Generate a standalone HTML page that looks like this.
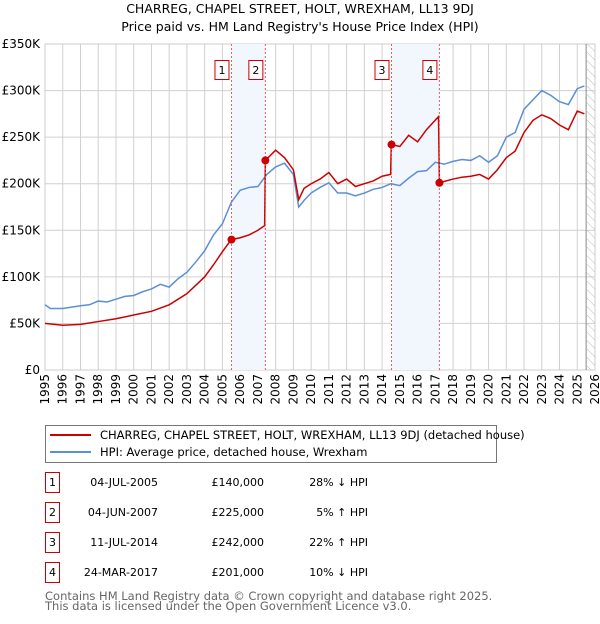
<!DOCTYPE html>
<html><head><meta charset="utf-8">
<style>
body{margin:0;background:#fff;font-family:"DejaVu Sans","Liberation Sans",sans-serif;}
svg text{font-family:"DejaVu Sans","Liberation Sans",sans-serif;}
</style></head>
<body>
<svg id="chart" width="600" height="620" xmlns="http://www.w3.org/2000/svg">
<defs><pattern id="hatch" width="6" height="6" patternUnits="userSpaceOnUse" patternTransform="rotate(-45)"><line x1="0" y1="0" x2="0" y2="6" stroke="#bbb" stroke-width="1"/></pattern></defs>
<text x="300" y="13" text-anchor="middle" font-size="12.5">CHARREG, CHAPEL STREET, HOLT, WREXHAM, LL13 9DJ</text>
<text x="300" y="31" text-anchor="middle" font-size="12.5">Price paid vs. HM Land Registry's House Price Index (HPI)</text>
<g id="grid"></g><g id="bands"></g><g id="lines"></g><g id="marks"></g><g id="axes"></g>
<rect x="45.5" y="425.5" width="451" height="37" fill="#fff" stroke="#777"/>
<line x1="50" y1="435" x2="91" y2="435" stroke="#cc0000" stroke-width="2"/>
<text x="100" y="439" font-size="11.5">CHARREG, CHAPEL STREET, HOLT, WREXHAM, LL13 9DJ (detached house)</text>
<line x1="50" y1="452" x2="91" y2="452" stroke="#5b8fd6" stroke-width="2"/>
<text x="100" y="456" font-size="11.5">HPI: Average price, detached house, Wrexham</text>
<g id="table"></g>
<text x="45" y="600" font-size="11.5" fill="#666">Contains HM Land Registry data © Crown copyright and database right 2025.</text>
<text x="45" y="610" font-size="11.5" fill="#666">This data is licensed under the Open Government Licence v3.0.</text>
</svg>
<script>
const hpiYears=[1995,1995.3,1996,1997,1997.5,1998,1998.5,1999,1999.5,2000,2000.5,2001,2001.5,2002,2002.5,2003,2003.5,2004,2004.5,2005,2005.5,2006,2006.5,2007,2007.5,2008,2008.5,2009,2009.3,2009.6,2010,2010.5,2011,2011.5,2012,2012.5,2013,2013.5,2014,2014.5,2015,2015.5,2016,2016.5,2017,2017.5,2018,2018.5,2019,2019.5,2020,2020.5,2021,2021.5,2022,2022.5,2023,2023.5,2024,2024.5,2025,2025.4];
const hpiValues=[70,66,66,69,70,74,73,76,79,80,84,87,92,89,98,105,116,128,145,157,180,193,196,197,210,218,222,210,175,182,190,196,201,190,190,187,190,194,196,200,198,206,213,214,223,221,224,226,225,230,223,230,250,255,280,290,300,295,288,285,302,305];
const priceYears=[1995,1996,1997,1998,1999,2000,2001,2002,2003,2004,2004.5,2005,2005.5,2006,2006.5,2007,2007.38,2007.42,2008,2008.5,2009,2009.3,2009.6,2010,2010.5,2011,2011.5,2012,2012.5,2013,2013.5,2014,2014.48,2014.52,2015,2015.5,2016,2016.5,2017.18,2017.23,2018,2018.5,2019,2019.5,2020,2020.5,2021,2021.5,2022,2022.5,2023,2023.5,2024,2024.5,2025,2025.4];
const priceValues=[50,48,49,52,55,59,63,70,82,100,113,127,140,142,145,150,155,225,236,228,215,183,195,200,205,212,200,205,197,200,203,208,210,242,240,252,245,258,272,201,205,207,208,210,205,215,228,235,255,268,274,270,263,258,278,275];
const saleLabels=["1","2","3","4"];
const saleYears=[2005.51,2007.42,2014.53,2017.23];
const saleValues=[140,225,242,201];
const saleDates=["04-JUL-2005","04-JUN-2007","11-JUL-2014","24-MAR-2017"];
const salePrices=["£140,000","£225,000","£242,000","£201,000"];
const saleDiffs=["28% ↓ HPI","5% ↑ HPI","22% ↑ HPI","10% ↓ HPI"];
const yTicks=[0,50,100,150,200,250,300,350];
const yTickLabels=["£0","£50K","£100K","£150K","£200K","£250K","£300K","£350K"];
const xTicks=[];for(let y=1995;y<=2026;y++)xTicks.push(y);

const NS="http://www.w3.org/2000/svg";
const X0=45,X1=595,Y0=370,Y1=44;
const xs=v=>X0+(v-1995)*(X1-X0)/31;
const ys=v=>Y0-v*(Y0-Y1)/350;
function mk(tag,attrs,parent,text){const e=document.createElementNS(NS,tag);for(const k in attrs)e.setAttribute(k,attrs[k]);if(text!==undefined)e.textContent=text;document.getElementById(parent).appendChild(e);return e;}

let e;
for(let i=0;i<saleYears.length;i+=2){
 e=mk('rect',{x:xs(saleYears[i]),y:Y1,width:xs(saleYears[i+1])-xs(saleYears[i]),height:Y0-Y1,fill:'#f2f6fd'},'bands');
 
 
}
e=mk('rect',{x:xs(2025.5),y:Y1,width:X1-xs(2025.5),height:Y0-Y1,fill:'url(#hatch)'},'bands');


xTicks.forEach(t=>{mk('line',{x1:xs(t),x2:xs(t),y1:Y1,y2:Y0,stroke:'#d0d0d0'},'grid');});
yTicks.forEach(t=>{mk('line',{x1:X0,x2:X1,y1:ys(t),y2:ys(t),stroke:'#d0d0d0'},'grid');});
mk('rect',{x:X0,y:Y1,width:X1-X0,height:Y0-Y1,fill:'none',stroke:'#ccc'},'grid');
mk('line',{x1:xs(2025.5),x2:xs(2025.5),y1:Y1,y2:Y0,stroke:'#888'},'grid');
yTicks.forEach((t,i)=>{e=mk('text',{x:40,y:ys(t)+4,'text-anchor':'end','font-size':'12'},'axes',yTickLabels[i]);
 
 });
xTicks.forEach(t=>{e=mk('text',{transform:`translate(${xs(t)+4},374) rotate(-90)`,'text-anchor':'end','font-size':'12'},'axes',String(t));
 
 });
e=mk('polyline',{points:hpiYears.map((y,i)=>xs(y)+','+ys(hpiValues[i])).join(' '),fill:'none',stroke:'#5b8fd6','stroke-width':1.5},'lines');


e=mk('polyline',{points:priceYears.map((y,i)=>xs(y)+','+ys(priceValues[i])).join(' '),fill:'none',stroke:'#cc0000','stroke-width':1.5},'lines');


saleYears.forEach((y,i)=>{
 mk('line',{x1:xs(y),x2:xs(y),y1:Y1,y2:Y0,stroke:'#e06060','stroke-dasharray':'2,2'},'marks');
 e=mk('circle',{cx:xs(y),cy:ys(saleValues[i]),r:4,fill:'#cc0000'},'marks');
 
 
 e=mk('rect',{x:xs(y)-16.5,y:60.5,width:14,height:19,fill:'#fff',stroke:'#cc0000'},'marks');
 
 
 mk('text',{x:xs(y)-9.5,y:74,'text-anchor':'middle','font-size':'11'},'marks',saleLabels[i]);
});
saleLabels.forEach((l,i)=>{
 const cy=483+i*30;
 e=mk('rect',{x:45.5,y:cy-10.5,width:14,height:20,fill:'#fff',stroke:'#cc0000'},'table');
 
 
 mk('text',{x:52.5,y:cy+3,'text-anchor':'middle','font-size':'11'},'table',l);
 e=mk('text',{x:158,y:cy+3,'text-anchor':'end','font-size':'11'},'table',saleDates[i]);
 
 
 e=mk('text',{x:264,y:cy+3,'text-anchor':'end','font-size':'11'},'table',salePrices[i]);
 
 
 e=mk('text',{x:368,y:cy+3,'text-anchor':'end','font-size':'11'},'table',saleDiffs[i]);
 
 
});
</script>
</body></html>
